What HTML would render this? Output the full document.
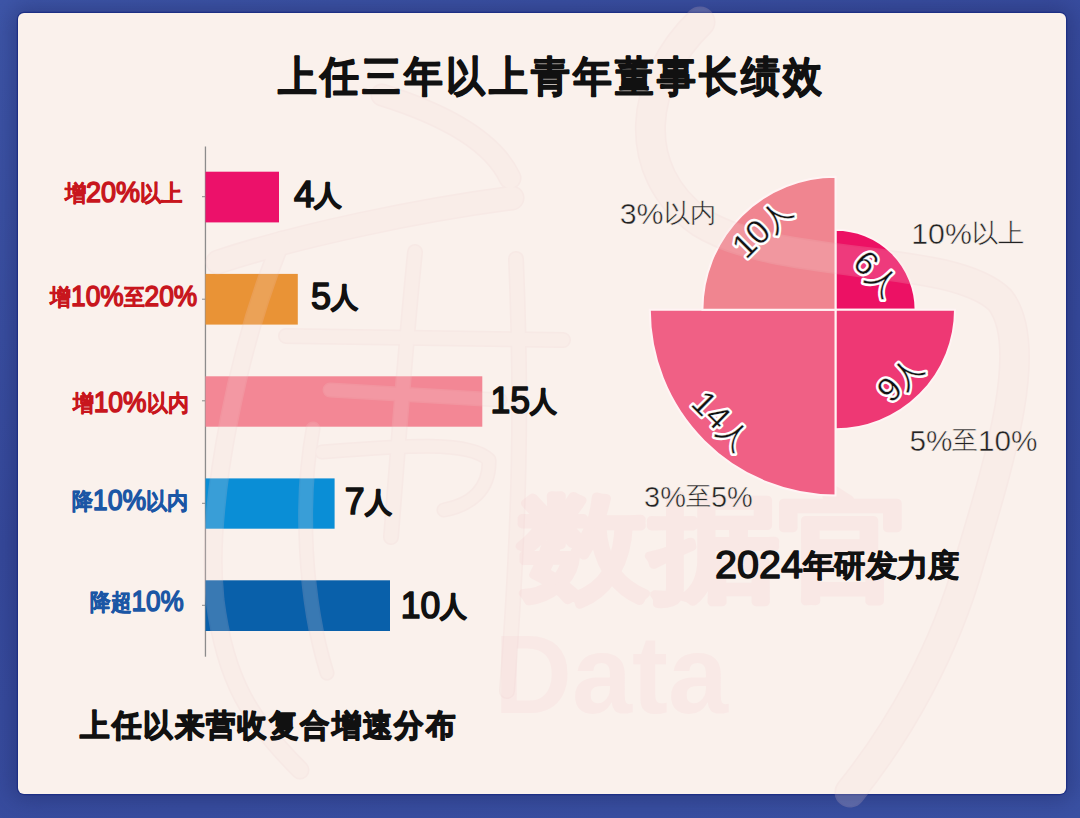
<!DOCTYPE html>
<html><head><meta charset="utf-8">
<style>
html,body{margin:0;padding:0;width:1080px;height:818px;overflow:hidden;}
body{background:linear-gradient(160deg,#3e56a8 0%,#36499b 45%,#3a51a3 100%);position:relative;}
.card{position:absolute;left:18px;top:13px;width:1048px;height:781px;background:#faf1ec;border-radius:6px;box-shadow:0 0 0 1.2px #1d2f84,0 0 22px 6px rgba(30,40,100,0.45);}
svg{position:absolute;left:0;top:0;font-family:"Liberation Sans",sans-serif;}
</style></head>
<body>
<div class="card"></div>
<svg width="1080" height="818" viewBox="0 0 1080 818">
<text x="519" y="588" font-size="116" font-weight="bold" fill="#f9e8e5" stroke="#f9e8e5" stroke-width="5" stroke-linejoin="round" textLength="390" lengthAdjust="spacingAndGlyphs">数据官</text>
<text x="494" y="713" font-size="112" font-weight="bold" fill="#f9e9e6" textLength="234" lengthAdjust="spacingAndGlyphs">Data</text>

<rect x="204.8" y="146.5" width="1.3" height="510.2" fill="#8c8c8c"/>
<rect x="202" y="196.2" width="3" height="1" fill="#8c8c8c"/>
<rect x="202" y="298.7" width="3" height="1" fill="#8c8c8c"/>
<rect x="202" y="400.3" width="3" height="1" fill="#8c8c8c"/>
<rect x="202" y="502.8" width="3" height="1" fill="#8c8c8c"/>
<rect x="202" y="604.8" width="3" height="1" fill="#8c8c8c"/>
<rect x="205.5" y="171.7" width="73.5" height="50.7" fill="#ec116a"/>
<rect x="205.5" y="273.9" width="92.3" height="50.7" fill="#e99336"/>
<rect x="205.5" y="376.3" width="276.8" height="50.4" fill="#f38795"/>
<rect x="205.5" y="478.4" width="129.1" height="50.3" fill="#0a8ed6"/>
<rect x="205.5" y="580.3" width="184.5" height="50.7" fill="#0960aa"/>
<g stroke="#fff4f4" stroke-width="2">
<path d="M835.5 309.8 L835.5 229.7 A80.1 80.1 0 0 1 915.6 309.8 Z" fill="#ec1164"/>
<path d="M835.5 309.8 L955.0 309.8 A119.5 119.5 0 0 1 835.5 429.3 Z" fill="#ee3874"/>
<path d="M835.5 309.8 L835.5 495.5 A185.7 185.7 0 0 1 649.8 309.8 Z" fill="#f06085"/>
<path d="M835.5 309.8 L702.4 309.8 A133.1 133.1 0 0 1 835.5 176.7 Z" fill="#f08590"/>
</g>
<g opacity="0.2" fill="none" stroke-linecap="round" stroke-linejoin="round">
<g stroke="#efcaca">
<path d="M382 95 C430 110 490 135 510 178" stroke-width="23"/>
<path d="M218 262 C300 235 420 210 512 198" stroke-width="25"/>
<path d="M286 336 L563 340" stroke-width="16"/>
<path d="M516 259 C522 400 520 520 507 691" stroke-width="16"/>
<path d="M415 252 C405 350 398 450 391 537" stroke-width="16"/>
<path d="M330 390 L500 400" stroke-width="15"/>
<path d="M322 452 C400 446 470 440 489 460 C490 490 470 505 444 510" stroke-width="15"/>
<path d="M313 429 C300 500 304 600 327 673" stroke-width="15"/>
<path d="M282 240 C240 340 205 500 215 600 C225 680 250 720 300 770" stroke-width="19"/>
<path d="M700 22 C640 80 628 170 700 222 C780 272 950 252 1000 300 C1035 345 1000 460 970 560 C945 650 900 730 850 792" stroke-width="31"/>
</g>
<g stroke="#f6dedb">
<path d="M382 95 C430 110 490 135 510 178" stroke-width="20"/>
<path d="M218 262 C300 235 420 210 512 198" stroke-width="22"/>
<path d="M286 336 L563 340" stroke-width="13"/>
<path d="M516 259 C522 400 520 520 507 691" stroke-width="13"/>
<path d="M415 252 C405 350 398 450 391 537" stroke-width="13"/>
<path d="M330 390 L500 400" stroke-width="12"/>
<path d="M322 452 C400 446 470 440 489 460 C490 490 470 505 444 510" stroke-width="12"/>
<path d="M313 429 C300 500 304 600 327 673" stroke-width="12"/>
<path d="M282 240 C240 340 205 500 215 600 C225 680 250 720 300 770" stroke-width="16"/>
<path d="M700 22 C640 80 628 170 700 222 C780 272 950 252 1000 300 C1035 345 1000 460 970 560 C945 650 900 730 850 792" stroke-width="28"/>
</g>
</g>

<text x="0" y="10" text-anchor="middle" transform="translate(875.6 274.7) rotate(45)" fill="#fff" stroke="#fff" stroke-width="4.6" stroke-linejoin="round"><tspan font-size="34">6</tspan><tspan font-size="30">人</tspan></text><text x="0" y="10" text-anchor="middle" transform="translate(875.6 274.7) rotate(45)" fill="#111" stroke="#fff" stroke-width="0.35"><tspan font-size="34">6</tspan><tspan font-size="30">人</tspan></text>
<text x="0" y="10" text-anchor="middle" transform="translate(901.2 380.0) rotate(-45)" fill="#fff" stroke="#fff" stroke-width="4.6" stroke-linejoin="round"><tspan font-size="34">9</tspan><tspan font-size="30">人</tspan></text><text x="0" y="10" text-anchor="middle" transform="translate(901.2 380.0) rotate(-45)" fill="#111" stroke="#fff" stroke-width="0.35"><tspan font-size="34">9</tspan><tspan font-size="30">人</tspan></text>
<text x="0" y="10" text-anchor="middle" transform="translate(720.6 421.7) rotate(45)" fill="#fff" stroke="#fff" stroke-width="4.6" stroke-linejoin="round"><tspan font-size="34">14</tspan><tspan font-size="30">人</tspan></text><text x="0" y="10" text-anchor="middle" transform="translate(720.6 421.7) rotate(45)" fill="#111" stroke="#fff" stroke-width="0.35"><tspan font-size="34">14</tspan><tspan font-size="30">人</tspan></text>
<text x="0" y="10" text-anchor="middle" transform="translate(762.8 229.3) rotate(-45)" fill="#fff" stroke="#fff" stroke-width="4.6" stroke-linejoin="round"><tspan font-size="34">10</tspan><tspan font-size="30">人</tspan></text><text x="0" y="10" text-anchor="middle" transform="translate(762.8 229.3) rotate(-45)" fill="#111" stroke="#fff" stroke-width="0.35"><tspan font-size="34">10</tspan><tspan font-size="30">人</tspan></text>
<text x="278.0" y="90.8" font-weight="bold" fill="#111111" letter-spacing="3.5" textLength="547.5" lengthAdjust="spacingAndGlyphs"><tspan font-size="42" font-weight="bold" stroke="#111111" stroke-width="1.2" stroke-linejoin="round">上任三年以上青年董事长绩效</tspan></text>
<text x="64.6" y="202.2" font-weight="bold" fill="#c8161d" textLength="118.3" lengthAdjust="spacingAndGlyphs"><tspan font-size="22.5" font-weight="bold" stroke="#c8161d" stroke-width="0.6" stroke-linejoin="round" baseline-shift="1.5">增</tspan><tspan font-size="29" font-weight="normal" stroke="#c8161d" stroke-width="1.5" stroke-linejoin="round">20%</tspan><tspan font-size="22.5" font-weight="bold" stroke="#c8161d" stroke-width="0.6" stroke-linejoin="round" baseline-shift="1.5">以上</tspan></text>
<text x="50.2" y="305.8" font-weight="bold" fill="#c8161d" textLength="147.0" lengthAdjust="spacingAndGlyphs"><tspan font-size="22.5" font-weight="bold" stroke="#c8161d" stroke-width="0.6" stroke-linejoin="round" baseline-shift="1.5">增</tspan><tspan font-size="29" font-weight="normal" stroke="#c8161d" stroke-width="1.5" stroke-linejoin="round">10%</tspan><tspan font-size="22.5" font-weight="bold" stroke="#c8161d" stroke-width="0.6" stroke-linejoin="round" baseline-shift="1.5">至</tspan><tspan font-size="29" font-weight="normal" stroke="#c8161d" stroke-width="1.5" stroke-linejoin="round">20%</tspan></text>
<text x="72.7" y="411.7" font-weight="bold" fill="#c8161d" textLength="115.8" lengthAdjust="spacingAndGlyphs"><tspan font-size="22.5" font-weight="bold" stroke="#c8161d" stroke-width="0.6" stroke-linejoin="round" baseline-shift="1.5">增</tspan><tspan font-size="29" font-weight="normal" stroke="#c8161d" stroke-width="1.5" stroke-linejoin="round">10%</tspan><tspan font-size="22.5" font-weight="bold" stroke="#c8161d" stroke-width="0.6" stroke-linejoin="round" baseline-shift="1.5">以内</tspan></text>
<text x="71.7" y="510.3" font-weight="bold" fill="#1b56a5" textLength="116.8" lengthAdjust="spacingAndGlyphs"><tspan font-size="22.5" font-weight="bold" stroke="#1b56a5" stroke-width="0.6" stroke-linejoin="round" baseline-shift="1.5">降</tspan><tspan font-size="29" font-weight="normal" stroke="#1b56a5" stroke-width="1.5" stroke-linejoin="round">10%</tspan><tspan font-size="22.5" font-weight="bold" stroke="#1b56a5" stroke-width="0.6" stroke-linejoin="round" baseline-shift="1.5">以内</tspan></text>
<text x="90.0" y="610.8" font-weight="bold" fill="#1b56a5" textLength="93.7" lengthAdjust="spacingAndGlyphs"><tspan font-size="22.5" font-weight="bold" stroke="#1b56a5" stroke-width="0.6" stroke-linejoin="round" baseline-shift="1.5">降超</tspan><tspan font-size="29" font-weight="normal" stroke="#1b56a5" stroke-width="1.5" stroke-linejoin="round">10%</tspan></text>
<text x="293.9" y="206.9" font-weight="bold" fill="#111111" textLength="48.2" lengthAdjust="spacingAndGlyphs"><tspan font-size="37" font-weight="normal" stroke="#111111" stroke-width="1.7" stroke-linejoin="round">4</tspan><tspan font-size="27.5" font-weight="bold" stroke="#111111" stroke-width="1.3" stroke-linejoin="round" baseline-shift="2.5">人</tspan></text>
<text x="310.9" y="309.1" font-weight="bold" fill="#111111" textLength="47.2" lengthAdjust="spacingAndGlyphs"><tspan font-size="37" font-weight="normal" stroke="#111111" stroke-width="1.7" stroke-linejoin="round">5</tspan><tspan font-size="27.5" font-weight="bold" stroke="#111111" stroke-width="1.3" stroke-linejoin="round" baseline-shift="2.5">人</tspan></text>
<text x="490.5" y="412.7" font-weight="bold" fill="#111111" textLength="66.5" lengthAdjust="spacingAndGlyphs"><tspan font-size="37" font-weight="normal" stroke="#111111" stroke-width="1.7" stroke-linejoin="round">15</tspan><tspan font-size="27.5" font-weight="bold" stroke="#111111" stroke-width="1.3" stroke-linejoin="round" baseline-shift="2.5">人</tspan></text>
<text x="344.7" y="513.6" font-weight="bold" fill="#111111" textLength="46.9" lengthAdjust="spacingAndGlyphs"><tspan font-size="37" font-weight="normal" stroke="#111111" stroke-width="1.7" stroke-linejoin="round">7</tspan><tspan font-size="27.5" font-weight="bold" stroke="#111111" stroke-width="1.3" stroke-linejoin="round" baseline-shift="2.5">人</tspan></text>
<text x="400.7" y="617.7" font-weight="bold" fill="#111111" textLength="66.4" lengthAdjust="spacingAndGlyphs"><tspan font-size="37" font-weight="normal" stroke="#111111" stroke-width="1.7" stroke-linejoin="round">10</tspan><tspan font-size="27.5" font-weight="bold" stroke="#111111" stroke-width="1.3" stroke-linejoin="round" baseline-shift="2.5">人</tspan></text>
<text x="80.3" y="736.3" font-weight="bold" fill="#111111" letter-spacing="2" textLength="376.9" lengthAdjust="spacingAndGlyphs"><tspan font-size="30.5" font-weight="bold" stroke="#111111" stroke-width="1.5" stroke-linejoin="round">上任以来营收复合增速分布</tspan></text>
<text x="715.1" y="578.4" font-weight="bold" fill="#111111" textLength="244.7" lengthAdjust="spacingAndGlyphs"><tspan font-size="39" font-weight="normal" stroke="#111111" stroke-width="1.5" stroke-linejoin="round">2024</tspan><tspan font-size="30.5" font-weight="bold" stroke="#111111" stroke-width="1.0" stroke-linejoin="round" baseline-shift="2.5">年研发力度</tspan></text>
<text x="619.7" y="224.1" font-weight="normal" fill="#222222" stroke="#faf1ec" stroke-width="0.5" textLength="96.5" lengthAdjust="spacingAndGlyphs"><tspan font-size="30" font-weight="normal">3%</tspan><tspan font-size="26" font-weight="normal" baseline-shift="2.5">以内</tspan></text>
<text x="911.3" y="243.8" font-weight="normal" fill="#222222" stroke="#faf1ec" stroke-width="0.5" textLength="113.0" lengthAdjust="spacingAndGlyphs"><tspan font-size="30" font-weight="normal">10%</tspan><tspan font-size="26" font-weight="normal" baseline-shift="2.5">以上</tspan></text>
<text x="909.4" y="451.0" font-weight="normal" fill="#222222" stroke="#faf1ec" stroke-width="0.5" textLength="128.1" lengthAdjust="spacingAndGlyphs"><tspan font-size="30" font-weight="normal">5%</tspan><tspan font-size="26" font-weight="normal" baseline-shift="2.5">至</tspan><tspan font-size="30" font-weight="normal">10%</tspan></text>
<text x="644.1" y="507.2" font-weight="normal" fill="#222222" stroke="#faf1ec" stroke-width="0.5" textLength="108.6" lengthAdjust="spacingAndGlyphs"><tspan font-size="30" font-weight="normal">3%</tspan><tspan font-size="26" font-weight="normal" baseline-shift="2.5">至</tspan><tspan font-size="30" font-weight="normal">5%</tspan></text>
</svg>
</body></html>
